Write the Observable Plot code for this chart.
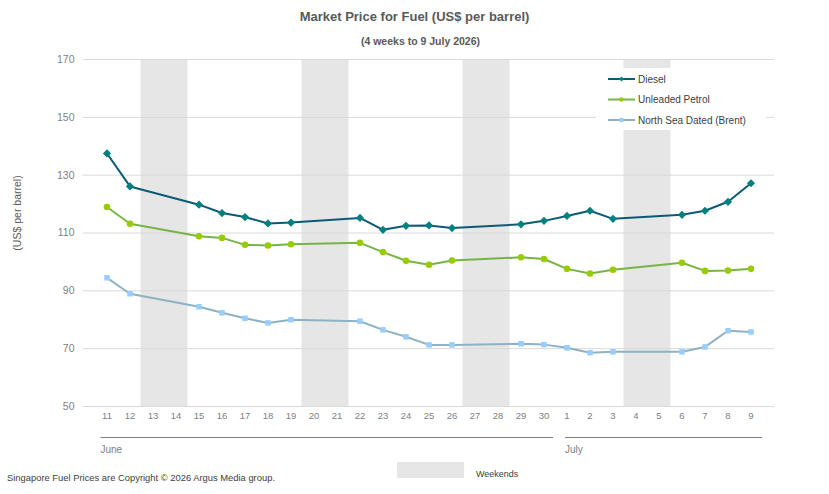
<!DOCTYPE html>
<html>
<head>
<meta charset="utf-8">
<script src="https://cdn.jsdelivr.net/npm/d3@7"></script>
<script src="https://cdn.jsdelivr.net/npm/@observablehq/plot@0.6"></script>
<style>
  html, body { margin: 0; padding: 0; background: #fff; }
  body { width: 829px; height: 494px; position: relative; overflow: hidden;
         font-family: "Liberation Sans", Arial, sans-serif; }
  .abs { position: absolute; white-space: nowrap; }
  #title { left: 0; width: 829px; top: 9px; text-align: center; font-size: 13px; font-weight: bold; color: #595959; }
  #subtitle { left: 6px; width: 829px; top: 35px; text-align: center; font-size: 10.5px; font-weight: bold; color: #595959; }
  #ylabel { left: 17px; top: 213px; font-size: 10.5px; color: #595959; transform: translate(-50%, -50%) rotate(-90deg); }
  #footer { left: 7px; top: 472px; font-size: 9.4px; color: #404040; }
  #wkbox { left: 397px; top: 462px; width: 67px; height: 16px; background: #e6e6e6; }
  #wktext { left: 476px; top: 469px; font-size: 9px; color: #404040; }
  #legend { left: 596px; top: 68px; width: 170px; height: 62px; background: #fff; }
  #chart { position: absolute; left: 0; top: 0; }
</style>
</head>
<body>
<div id="chart"></div>
<div class="abs" id="title">Market Price for Fuel (US$ per barrel)</div>
<div class="abs" id="subtitle">(4 weeks to 9 July 2026)</div>
<div class="abs" id="ylabel">(US$ per barrel)</div>
<div class="abs" id="legend"></div>
<div class="abs" id="wkbox"></div>
<div class="abs" id="wktext">Weekends</div>
<div class="abs" id="footer">Singapore Fuel Prices are Copyright © 2026 Argus Media group.</div>
<script>
// Trading days, 11 June – 9 July 2026 (month/day keys)
const days = [
  "6/11","6/12","6/13","6/14","6/15","6/16","6/17","6/18","6/19","6/20",
  "6/21","6/22","6/23","6/24","6/25","6/26","6/27","6/28","6/29","6/30",
  "7/1","7/2","7/3","7/4","7/5","7/6","7/7","7/8","7/9"
];
const weekends = ["6/13","6/14","6/20","6/21","6/27","6/28","7/4","7/5"];
const monthNames = ["June", "July"];
const monthKeys = ["6", "7"];

// Prices in US$ per barrel (null on weekends, no assessment)
const diesel = [137.5,126.1,null,null,119.8,116.9,115.5,113.3,113.6,null,
                null,115.2,111.1,112.5,112.6,111.7,null,null,113.0,114.2,
                115.9,117.7,114.9,null,null,116.3,117.7,120.8,127.2];
const petrol = [119.0,113.2,null,null,108.9,108.3,105.9,105.7,106.1,null,
                null,106.6,103.4,100.4,99.0,100.5,null,null,101.6,101.0,
                97.6,96.0,97.3,null,null,99.7,96.9,97.0,97.6];
const brent  = [94.5,89.0,null,null,84.5,82.4,80.5,78.9,80.0,null,
                null,79.5,76.5,74.1,71.3,71.3,null,null,71.7,71.4,
                70.3,68.6,68.9,null,null,68.9,70.6,76.2,75.8];

const yDomain = [50, 170];
const yTicks = [50, 70, 90, 110, 130, 150, 170];

const series = [
  {name: "Diesel", values: diesel, line: "#0b5a78", marker: "#00807f", symbol: "diamond2", r: 3.7},
  {name: "Unleaded Petrol", values: petrol, line: "#77b446", marker: "#99cc00", symbol: "circle", r: 3.3},
  {name: "North Sea Dated (Brent)", values: brent, line: "#8db2c3", marker: "#99ccff", symbol: "square", r: 3.1}
];

const rows = series.flatMap(s =>
  days.map((d, i) => ({series: s.name, day: d, value: s.values[i]})).filter(r => r.value != null)
);

const lineMarks = series.flatMap(s => {
  const data = rows.filter(r => r.series === s.name);
  return [
    Plot.line(data, {x: "day", y: "value", stroke: s.line, strokeWidth: 2}),
    Plot.dot(data, {x: "day", y: "value", symbol: s.symbol, r: s.r, fill: s.marker, stroke: "none"})
  ];
});

const chart = Plot.plot({
  width: 829,
  height: 494,
  marginTop: 59,
  marginBottom: 88,
  marginLeft: 83,
  marginRight: 55,
  style: {fontFamily: "'Liberation Sans', Arial, sans-serif", background: "transparent"},
  x: {type: "band", domain: days, paddingInner: 0, paddingOuter: 0.5},
  y: {domain: yDomain},
  marks: [
    Plot.barY(weekends, {x: d => d, y1: yDomain[0], y2: yDomain[1], fill: "#e6e6e6", insetLeft: -0.5, insetRight: -0.5}),
    Plot.gridY(yTicks, {stroke: "#d9d9d9", strokeOpacity: 1}),
    Plot.axisY(yTicks, {tickSize: 0, tickPadding: 9, fontSize: 10.5, fill: "#7f7f7f", label: null}),
    Plot.axisX({tickSize: 0, tickPadding: 6, fontSize: 9.5, fill: "#808080", label: null,
                tickFormat: d => d.split("/")[1]}),
    ...lineMarks
  ]
});
document.getElementById("chart").appendChild(chart);

// Month grouping lines and labels under the day axis
const x = chart.scale("x");
const bw = x.bandwidth;
const svg = d3.select(chart);
const g = svg.append("g").attr("text-anchor", "start");
monthKeys.forEach((m, i) => {
  const inMonth = days.filter(d => d.split("/")[0] === m);
  const x0 = x.apply(inMonth[0]) + (i === 0 ? 5.5 : 10);
  const x1 = x.apply(inMonth[inMonth.length - 1]) + bw - (i === 0 ? 2 : 0);
  g.append("line").attr("x1", x0).attr("x2", x1).attr("y1", 437.5).attr("y2", 437.5)
    .attr("stroke", "#808080").attr("stroke-width", 1);
  g.append("text").attr("x", x0).attr("y", 453).attr("font-size", 10).attr("fill", "#808080")
    .attr("text-anchor", "start").text(monthNames[i]);
});

// Series legend
const leg = d3.select("#legend").append("svg").attr("width", 170).attr("height", 62);
series.forEach((s, i) => {
  const cy = 11 + i * 20.5;
  leg.append("line").attr("x1", 12).attr("x2", 39).attr("y1", cy).attr("y2", cy)
    .attr("stroke", s.line).attr("stroke-width", 2);
  leg.append("path").attr("transform", `translate(25.5,${cy})`)
    .attr("d", d3.symbol(s.symbol === "diamond2" ? d3.symbolDiamond2 : s.symbol === "circle" ? d3.symbolCircle : d3.symbolSquare, 16)())
    .attr("fill", s.marker);
  leg.append("text").attr("x", 42).attr("y", cy + 3.5).attr("font-size", 10).attr("fill", "#404040")
    .attr("font-family", "'Liberation Sans', Arial, sans-serif").text(s.name);
});
</script>
</body>
</html>
